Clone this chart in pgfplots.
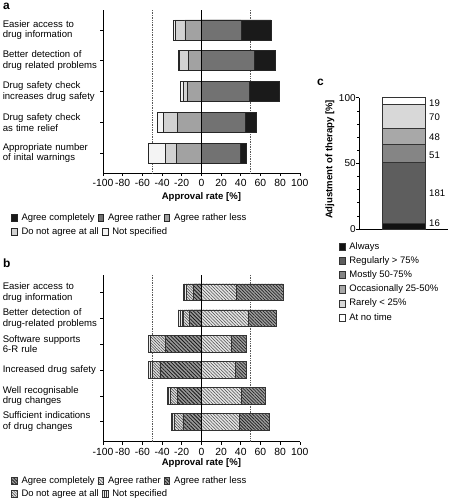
\documentclass[border=0pt]{standalone}
\usepackage{fontspec}
\setmainfont{Liberation Sans}
\usepackage{pgfplots}
\usepackage{pgfplotstable}
\pgfplotsset{compat=1.18}
\usetikzlibrary{patterns.meta}

\definecolor{cAC}{HTML}{1A1A1A}
\definecolor{cAR}{HTML}{727272}
\definecolor{cARL}{HTML}{A2A2A2}
\definecolor{cDNA}{HTML}{D2D2D2}
\definecolor{cNS}{HTML}{F4F4F4}
\definecolor{cAlw}{HTML}{111111}
\definecolor{cReg}{HTML}{5E5E5E}
\definecolor{cMos}{HTML}{858585}
\definecolor{cOcc}{HTML}{A8A8A8}
\definecolor{cRar}{HTML}{D8D8D8}
\definecolor{cNo}{HTML}{FFFFFF}

\tikzset{
  aAC/.style={fill=cAC, draw=black!85, line width=0.6bp},
  aAR/.style={fill=cAR, draw=black!85, line width=0.6bp},
  aARL/.style={fill=cARL, draw=black!85, line width=0.6bp},
  aDNA/.style={fill=cDNA, draw=black!85, line width=0.6bp},
  aNS/.style={fill=cNS, draw=black!85, line width=0.6bp},
  bAC/.style={fill=black!38, draw=black!80, line width=0.6bp,
    postaction={pattern={Lines[angle=-45,distance=2.3bp,line width=0.75bp]}, pattern color=black!85}},
  bAR/.style={fill=black!10, draw=black!80, line width=0.6bp,
    postaction={pattern={Lines[angle=-45,distance=2.3bp,line width=0.55bp]}, pattern color=black!70}},
  bARL/.style={fill=black!40, draw=black!80, line width=0.6bp,
    postaction={pattern={Lines[angle=-45,distance=2.6bp,line width=0.8bp]}, pattern color=black!90}},
  bDNA/.style={fill=black!12, draw=black!80, line width=0.6bp,
    postaction={pattern={Lines[angle=-45,distance=2.0bp,line width=0.5bp]}, pattern color=black!75}},
  bNS/.style={fill=black!8, draw=black!80, line width=0.6bp,
    postaction={pattern={Lines[angle=90,distance=2.0bp,line width=0.5bp]}, pattern color=black!80}},
  cAlwS/.style={fill=cAlw, draw=black!80, line width=0.5bp},
  cRegS/.style={fill=cReg, draw=black!80, line width=0.5bp},
  cMosS/.style={fill=cMos, draw=black!80, line width=0.5bp},
  cOccS/.style={fill=cOcc, draw=black!80, line width=0.5bp},
  cRarS/.style={fill=cRar, draw=black!80, line width=0.5bp},
  cNoS/.style={fill=cNo, draw=black!80, line width=0.5bp},
}

\pgfplotsset{
  divaxis/.style={
    scale only axis, anchor=south west,
    xmin=-100, xmax=100, y dir=reverse,
    axis x line*=bottom, axis y line*=left,
    axis line style={line width=0.6bp, black},
    tick align=outside, major tick length=3bp,
    tick style={black, line width=0.6bp},
    xtick={-100,-80,...,100},
    /pgf/number format/assume math mode=true,
    xticklabel style={font=\fontsize{10.4}{12}\selectfont},
    yticklabel style={align=left, text width=97bp, inner sep=0pt, font=\fontsize{9.6}{10.7}\selectfont},
    xlabel={Approval rate [\%]},
    clip=false,
  },
  legaux/.style={
    hide axis, scale only axis, width=1bp, height=1bp,
    xmin=0, xmax=1, ymin=0, ymax=1, anchor=south west,
    legend cell align=left,
    legend image code/.code={\draw[##1] (0bp,-3.6bp) rectangle (5.7bp,3.6bp);},
    legend style={at={(0,0)}, anchor=west, draw=none, fill=none,
      inner sep=0pt, outer sep=0pt,
      font=\fontsize{9.5}{11}\selectfont,
      nodes={inner sep=0pt, text height=6.8bp, text depth=2bp},
      /tikz/every odd column/.style={column sep=4.2bp},
      /tikz/every even column/.style={column sep=3bp}},
  },
}

\pgfplotstableread{
y nsL dnaL arlL arR acR
1 -28.6 -26.9 -16.8 40.1 70.6
2 -23.5 -22.5 -13.4 53.4 74.7
3 -21.5 -18.9 -14.2 48.3 78.8
4 -44.9 -38.8 -24.6 44.2 55.7
5 -53.5 -36.3 -25.8 39.3 46.0
}\tabA

\pgfplotstableread{
y nsL dnaL arlL arR acR
1 -17.9 -14.9 -8.1 35.5 83.1
2 -23.6 -17.9 -12.5 48.0 75.7
3 -53.7 -51.5 -36.5 30.4 45.9
4 -53.7 -50.3 -42.2 34.1 45.9
5 -34.8 -31.8 -24.7 40.5 65.2
6 -30.7 -28.0 -18.9 38.9 68.9
}\tabB

\pgfplotstableread{
x y lab
0.787 95.7 19
0.787 85.1 70
0.787 69.8 48
0.787 56.4 51
0.787 27.2 181
0.787 4.3 16
}\tabClab

\begin{document}
\begin{tikzpicture}[font=\fontsize{9.6}{10.7}\selectfont]
\useasboundingbox (0,0) rectangle (449bp,-500bp);

\node[anchor=base west, inner sep=0pt, font=\bfseries\fontsize{12}{12}\selectfont] at (3bp,-9bp) {a};
\node[anchor=base west, inner sep=0pt, font=\bfseries\fontsize{12}{12}\selectfont] at (3bp,-267.3bp) {b};
\node[anchor=base west, inner sep=0pt, font=\bfseries\fontsize{12}{12}\selectfont] at (317bp,-85.5bp) {c};

% ---------------- panel a
\begin{axis}[divaxis,
  at={(103bp,-173bp)}, width=196.8bp, height=163bp,
  ymin=0.35, ymax=5.65, ytick={1,...,5},
  yticklabels={{Easier access to\\drug information},
               {Better detection of\\drug related problems},
               {Drug safety check\\increases drug safety},
               {Drug safety check\\as time relief},
               {Appropriate number\\of inital warnings}},
  xlabel style={font=\bfseries\fontsize{9.6}{11}\selectfont, at={(axis description cs:0.5,-0.145)}, anchor=center},
]
\addplot[densely dotted, black!65, line width=0.7bp] coordinates {(-50,0.35) (-50,5.65)};
\addplot[densely dotted, black!65, line width=0.7bp] coordinates {(50,0.35) (50,5.65)};
\addplot[xbar, bar shift=0pt, bar width=0.65, aAC]  table[x=acR, y=y] {\tabA};
\addplot[xbar, bar shift=0pt, bar width=0.65, aAR]  table[x=arR, y=y] {\tabA};
\addplot[xbar, bar shift=0pt, bar width=0.65, aNS]  table[x=nsL, y=y] {\tabA};
\addplot[xbar, bar shift=0pt, bar width=0.65, aDNA] table[x=dnaL, y=y] {\tabA};
\addplot[xbar, bar shift=0pt, bar width=0.65, aARL] table[x=arlL, y=y] {\tabA};
\addplot[black, line width=0.7bp] coordinates {(0,0.35) (0,5.65)};
\end{axis}

\begin{axis}[legaux, at={(11bp,-218bp)}, legend columns=3]
\addlegendimage{aAC}\addlegendentry{Agree completely}
\addlegendimage{aAR}\addlegendentry{Agree rather}
\addlegendimage{aARL}\addlegendentry{Agree rather less}
\end{axis}
\begin{axis}[legaux, at={(11bp,-232bp)}, legend columns=2]
\addlegendimage{aDNA}\addlegendentry{Do not agree at all}
\addlegendimage{aNS}\addlegendentry{Not specified}
\end{axis}

% ---------------- panel b
\begin{axis}[divaxis,
  at={(103bp,-441.7bp)}, width=196.8bp, height=166.7bp,
  ymin=0.33, ymax=6.77, ytick={1,...,6},
  yticklabels={{Easier access to\\drug information},
               {Better detection of\\drug-related problems},
               {Software supports\\6-R rule},
               {Increased drug safety},
               {Well recognisable\\drug changes},
               {Sufficient indications\\of drug changes}},
  xlabel style={font=\bfseries\fontsize{9.6}{11}\selectfont, at={(axis description cs:0.5,-0.126)}, anchor=center},
]
\addplot[densely dotted, black!65, line width=0.7bp] coordinates {(-50,0.33) (-50,6.77)};
\addplot[densely dotted, black!65, line width=0.7bp] coordinates {(50,0.33) (50,6.77)};
\addplot[xbar, bar shift=0pt, bar width=0.65, bAC]  table[x=acR, y=y] {\tabB};
\addplot[xbar, bar shift=0pt, bar width=0.65, bAR]  table[x=arR, y=y] {\tabB};
\addplot[xbar, bar shift=0pt, bar width=0.65, bNS]  table[x=nsL, y=y] {\tabB};
\addplot[xbar, bar shift=0pt, bar width=0.65, bDNA] table[x=dnaL, y=y] {\tabB};
\addplot[xbar, bar shift=0pt, bar width=0.65, bARL] table[x=arlL, y=y] {\tabB};
\addplot[black, line width=0.7bp] coordinates {(0,0.33) (0,6.77)};
\end{axis}

\begin{axis}[legaux, at={(11bp,-481bp)}, legend columns=3]
\addlegendimage{bAC}\addlegendentry{Agree completely}
\addlegendimage{bAR}\addlegendentry{Agree rather}
\addlegendimage{bARL}\addlegendentry{Agree rather less}
\end{axis}
\begin{axis}[legaux, at={(11bp,-494bp)}, legend columns=2]
\addlegendimage{bDNA}\addlegendentry{Do not agree at all}
\addlegendimage{bNS}\addlegendentry{Not specified}
\end{axis}

% ---------------- panel c
\begin{axis}[
  at={(359bp,-229bp)}, anchor=south west, scale only axis,
  width=89bp, height=131.3bp,
  xmin=0, xmax=1, ymin=0, ymax=100,
  axis x line*=bottom, axis y line*=left,
  axis line style={line width=0.6bp, black},
  xtick=\empty, ytick={0,50,100},
  minor ytick={10,20,30,40,60,70,80,90},
  tick align=outside, major tick length=2.7bp, minor tick length=1.6bp,
  tick style={black, line width=0.6bp},
  /pgf/number format/assume math mode=true,
  yticklabel style={font=\fontsize{10}{12}\selectfont, inner sep=0.5bp},
  ylabel={Adjustment of therapy [\%]},
  ylabel style={font=\bfseries\fontsize{9.6}{11}\selectfont, at={(axis description cs:-0.326,0.53)}, anchor=center},
  clip=false,
]
\addplot[ybar, bar shift=0pt, bar width=0.487, cNoS]  coordinates {(0.5,100)};
\addplot[ybar, bar shift=0pt, bar width=0.487, cRarS] coordinates {(0.5,95.07)};
\addplot[ybar, bar shift=0pt, bar width=0.487, cOccS] coordinates {(0.5,76.89)};
\addplot[ybar, bar shift=0pt, bar width=0.487, cMosS] coordinates {(0.5,64.42)};
\addplot[ybar, bar shift=0pt, bar width=0.487, cRegS] coordinates {(0.5,51.17)};
\addplot[ybar, bar shift=0pt, bar width=0.487, cAlwS] coordinates {(0.5,4.16)};
\addplot[only marks, mark size=0pt, mark options={draw=none, fill=none},
  nodes near coords, point meta=explicit symbolic,
  every node near coord/.append style={anchor=west, inner sep=0pt, font=\fontsize{9.6}{11}\selectfont}]
  table[x=x, y=y, meta=lab] {\tabClab};
\end{axis}

\begin{axis}[legaux, at={(339bp,-282.2bp)}, legend columns=1,
  legend style={/tikz/every even column/.style={column sep=0bp}, row sep=5.4bp}]
\addlegendimage{cAlwS}\addlegendentry{Always}
\addlegendimage{cRegS}\addlegendentry{Regularly > 75\%}
\addlegendimage{cMosS}\addlegendentry{Mostly 50-75\%}
\addlegendimage{cOccS}\addlegendentry{Occasionally 25-50\%}
\addlegendimage{cRarS}\addlegendentry{Rarely < 25\%}
\addlegendimage{cNoS}\addlegendentry{At no time}
\end{axis}
\end{tikzpicture}
\end{document}
